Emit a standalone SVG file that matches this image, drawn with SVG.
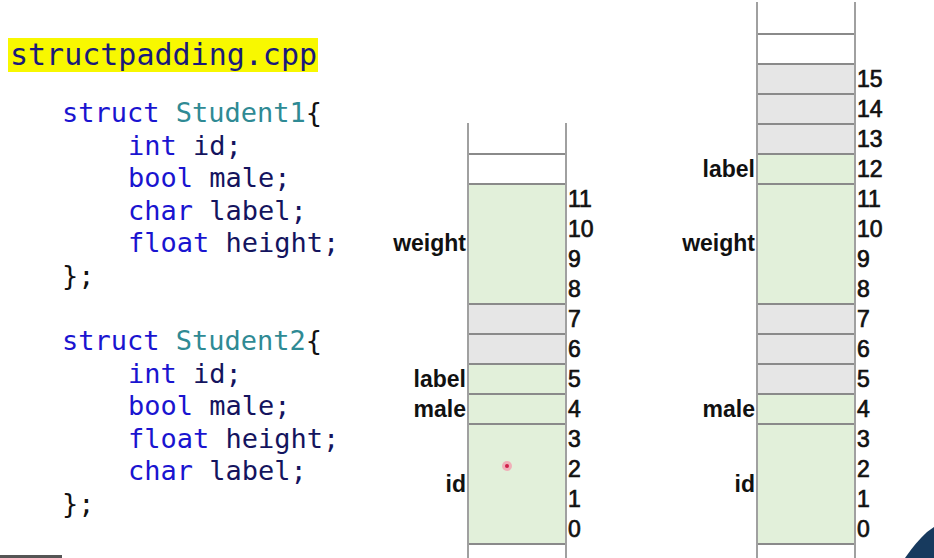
<svg xmlns="http://www.w3.org/2000/svg" width="934" height="558" viewBox="0 0 934 558">
<style>
.code{font-family:"DejaVu Sans Mono",monospace;font-size:27px;}
.kw{fill:#1a14d0;}
.ty{fill:#2f8a94;}
.id{fill:#14145e;}
.pn{fill:#111;}
.num{font-family:"Liberation Sans",Arial,sans-serif;font-size:23px;fill:#111;stroke:#111;stroke-width:0.7;}
.lab{font-family:"Liberation Sans",Arial,sans-serif;font-size:23px;font-weight:bold;fill:#111;text-anchor:end;}
.g{fill:#e2f0da;}
.x{fill:#e6e6e6;}
.h{stroke:#8a8a8a;stroke-width:2;}
.v{stroke:#a0a0a0;stroke-width:2;fill:none;}
</style>
<rect width="934" height="558" fill="#fff"/>

<g id="code">
<rect x="8" y="38" width="310" height="34" fill="#f8f800"/>
<text x="10" y="65" font-family="DejaVu Sans Mono,monospace" font-size="30" fill="#1a1a7a">structpadding.cpp</text>
<text class="code" x="62" y="122" xml:space="preserve"><tspan class="kw">struct</tspan> <tspan class="ty">Student1</tspan><tspan class="pn">{</tspan></text>
<text class="code" x="128" y="154.5" xml:space="preserve"><tspan class="kw">int</tspan> <tspan class="id">id;</tspan></text>
<text class="code" x="128" y="187" xml:space="preserve"><tspan class="kw">bool</tspan> <tspan class="id">male;</tspan></text>
<text class="code" x="128" y="219.5" xml:space="preserve"><tspan class="kw">char</tspan> <tspan class="id">label;</tspan></text>
<text class="code" x="128" y="252" xml:space="preserve"><tspan class="kw">float</tspan> <tspan class="id">height;</tspan></text>
<text class="code pn" x="62" y="284.5">};</text>
<text class="code" x="62" y="350" xml:space="preserve"><tspan class="kw">struct</tspan> <tspan class="ty">Student2</tspan><tspan class="pn">{</tspan></text>
<text class="code" x="128" y="382.5" xml:space="preserve"><tspan class="kw">int</tspan> <tspan class="id">id;</tspan></text>
<text class="code" x="128" y="415" xml:space="preserve"><tspan class="kw">bool</tspan> <tspan class="id">male;</tspan></text>
<text class="code" x="128" y="447.5" xml:space="preserve"><tspan class="kw">float</tspan> <tspan class="id">height;</tspan></text>
<text class="code" x="128" y="480" xml:space="preserve"><tspan class="kw">char</tspan> <tspan class="id">label;</tspan></text>
<text class="code pn" x="62" y="512.5">};</text>
</g>

<g id="layout1">
<rect class="g" x="468" y="184" width="98" height="120"/>
<rect class="x" x="468" y="304" width="98" height="60"/>
<rect class="g" x="468" y="364" width="98" height="180"/>
<line class="h" x1="468" y1="154" x2="566" y2="154"/>
<line class="h" x1="468" y1="184" x2="566" y2="184"/>
<line class="h" x1="468" y1="304" x2="566" y2="304"/>
<line class="h" x1="468" y1="334" x2="566" y2="334"/>
<line class="h" x1="468" y1="364" x2="566" y2="364"/>
<line class="h" x1="468" y1="394" x2="566" y2="394"/>
<line class="h" x1="468" y1="424" x2="566" y2="424"/>
<line class="h" x1="468" y1="544" x2="566" y2="544"/>
<line class="v" x1="468" y1="123" x2="468" y2="558"/>
<line class="v" x1="566" y1="123" x2="566" y2="558"/>
<text class="num" x="568" y="207">11</text>
<text class="num" x="568" y="237">10</text>
<text class="num" x="568" y="267">9</text>
<text class="num" x="568" y="297">8</text>
<text class="num" x="568" y="327">7</text>
<text class="num" x="568" y="357">6</text>
<text class="num" x="568" y="387">5</text>
<text class="num" x="568" y="417">4</text>
<text class="num" x="568" y="447">3</text>
<text class="num" x="568" y="477">2</text>
<text class="num" x="568" y="507">1</text>
<text class="num" x="568" y="537">0</text>
<text class="lab" x="466" y="251">weight</text>
<text class="lab" x="466" y="387">label</text>
<text class="lab" x="466" y="417">male</text>
<text class="lab" x="466" y="492">id</text>
</g>

<g id="layout2">
<rect class="x" x="757" y="64" width="98" height="90"/>
<rect class="g" x="757" y="154" width="98" height="150"/>
<rect class="x" x="757" y="304" width="98" height="90"/>
<rect class="g" x="757" y="394" width="98" height="150"/>
<line class="h" x1="757" y1="34" x2="855" y2="34"/>
<line class="h" x1="757" y1="64" x2="855" y2="64"/>
<line class="h" x1="757" y1="94" x2="855" y2="94"/>
<line class="h" x1="757" y1="124" x2="855" y2="124"/>
<line class="h" x1="757" y1="154" x2="855" y2="154"/>
<line class="h" x1="757" y1="184" x2="855" y2="184"/>
<line class="h" x1="757" y1="304" x2="855" y2="304"/>
<line class="h" x1="757" y1="334" x2="855" y2="334"/>
<line class="h" x1="757" y1="364" x2="855" y2="364"/>
<line class="h" x1="757" y1="394" x2="855" y2="394"/>
<line class="h" x1="757" y1="424" x2="855" y2="424"/>
<line class="h" x1="757" y1="544" x2="855" y2="544"/>
<line class="v" x1="757" y1="2" x2="757" y2="558"/>
<line class="v" x1="855" y1="2" x2="855" y2="558"/>
<text class="num" x="857" y="87">15</text>
<text class="num" x="857" y="117">14</text>
<text class="num" x="857" y="147">13</text>
<text class="num" x="857" y="177">12</text>
<text class="num" x="857" y="207">11</text>
<text class="num" x="857" y="237">10</text>
<text class="num" x="857" y="267">9</text>
<text class="num" x="857" y="297">8</text>
<text class="num" x="857" y="327">7</text>
<text class="num" x="857" y="357">6</text>
<text class="num" x="857" y="387">5</text>
<text class="num" x="857" y="417">4</text>
<text class="num" x="857" y="447">3</text>
<text class="num" x="857" y="477">2</text>
<text class="num" x="857" y="507">1</text>
<text class="num" x="857" y="537">0</text>
<text class="lab" x="755" y="177">label</text>
<text class="lab" x="755" y="251">weight</text>
<text class="lab" x="755" y="417">male</text>
<text class="lab" x="755" y="492">id</text>
</g>

<g id="extras">
<circle cx="507" cy="466" r="5" fill="#f4a0b0" opacity="0.8"/>
<circle cx="507" cy="466" r="2" fill="#d0204a"/>
<rect x="0" y="555" width="62" height="3" fill="#555"/>
<path d="M905 558 Q916 542 927 532 L934 527 L934 558 Z" fill="#173a5e"/>
</g>
</svg>
